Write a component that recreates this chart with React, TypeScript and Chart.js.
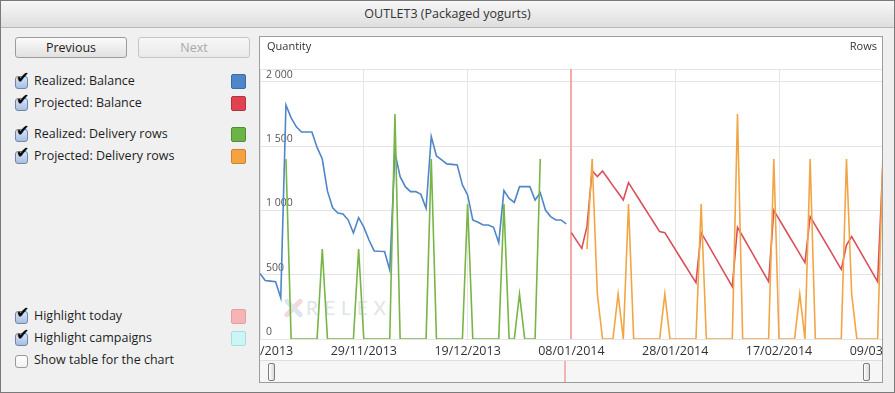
import React, { useEffect, useRef } from "react";
import { Chart, registerables } from "chart.js";

Chart.register(...registerables);

// ---------------- data ----------------
const START_YEAR = 2013;
const START_MONTH = 10; // 0-based: November
const START_DAY = 9; // axis starts 09/11/2013
const X_MIN_DAY = 0;
const X_MAX_DAY = 120;
const X_TICK_STEP_DAYS = 20;
const TODAY_DAY = 60; // 08/01/2014

const QUANTITY_MAX = 2100;
const QUANTITY_TICKS = [0, 500, 1000, 1500, 2000];
const ROWS_MAX = 6;
const ROWS_STEP = 1;

const realizedBalanceStartDay = 0;
const realizedBalance = [
  510, 455, 450, 445, 320, 1820, 1720, 1650, 1610, 1610, 1610, 1490, 1400, 1150, 1020,
  980, 972, 925, 825, 944, 870, 770, 685, 682, 680, 537, 1450, 1263, 1185, 1146,
  1146, 1125, 1017, 1574, 1424, 1393, 1362, 1358, 1354, 1198, 1120, 926, 908, 887, 887,
  869, 749, 1154, 1094, 1063, 1185, 1185, 1185, 1081, 1138, 1003, 952, 926, 926, 895,
];

const projectedBalanceStartDay = 60;
const projectedBalance = [
  827, 765, 705, 874, 1309, 1263, 1307, 1250, 1193, 1137, 1081, 1216, 1152, 1089, 1025,
  962, 898, 835, 827, 762, 697, 632, 568, 503, 438, 827, 757, 687, 617, 547,
  477, 407, 869, 799, 728, 658, 587, 517, 446, 1000, 932, 865, 797, 730, 662,
  594, 952, 884, 815, 747, 679, 610, 542, 730, 796, 726, 656, 586, 516, 446,
  1350,
];

const realizedRowsStartDay = 5;
const realizedRows = [
  4, 0, 0, 0, 0, 0, 0, 2, 0, 0, 0, 0, 0, 0, 2, 0, 0, 0, 0, 0, 0, 5, 0, 0, 0,
  0, 0, 0, 4, 0, 0, 0, 0, 0, 0, 3, 0, 0, 0, 0, 0, 0, 3, 0, 0, 1, 0, 0, 0, 4,
];

const projectedRowsStartDay = 63;
const projectedRows = [
  2, 4, 1, 0, 0, 0, 1, 0, 3, 0, 0, 0, 0, 0, 0, 1, 0, 0, 0, 0, 0, 0, 3, 0, 0,
  0, 0, 0, 0, 5, 0, 0, 0, 0, 0, 0, 4, 0, 0, 0, 0, 1, 0, 4, 0, 0, 0, 0, 0, 0,
  4, 1, 0, 0, 0, 0, 0, 4,
];

const SERIES_NAMES = [
  "Realized: Balance",
  "Projected: Balance",
  "Realized: Delivery rows",
  "Projected: Delivery rows",
];

// ---------------- styles ----------------
const BLUE = "#4f86c8";
const RED = "#d9505c";
const GREEN = "#78b446";
const ORANGE = "#f2a545";
const TODAY_LINE = "#f5a8a8";
const FONT = "'Open Sans', 'DejaVu Sans', sans-serif";

function toPoints(start: number, values: number[]) {
  return values.map((v, i) => ({ x: start + i, y: v }));
}

function fmtDate(day: number) {
  const d = new Date(Date.UTC(START_YEAR, START_MONTH, START_DAY + day));
  const dd = String(d.getUTCDate()).padStart(2, "0");
  const mm = String(d.getUTCMonth() + 1).padStart(2, "0");
  return `${dd}/${mm}/${d.getUTCFullYear()}`;
}

function fmtQty(v: number) {
  if (v >= 1000) {
    return `${Math.floor(v / 1000)} ${String(v % 1000).padStart(3, "0")}`;
  }
  return String(v);
}

const todayPlugin = {
  id: "todayLine",
  beforeDatasetsDraw(chart: any) {
    const { ctx, chartArea, scales } = chart;
    const x = Math.round(scales.x.getPixelForValue(TODAY_DAY));
    ctx.save();
    ctx.fillStyle = TODAY_LINE;
    ctx.fillRect(x - 1, chartArea.top, 2, chartArea.bottom - chartArea.top);
    ctx.restore();
  },
};

const CANVAS_W = 703;
const CANVAS_H = 322;

function ChartCanvas() {
  const ref = useRef<HTMLCanvasElement | null>(null);
  useEffect(() => {
    const canvas = ref.current!;
    const chart = new Chart(canvas, {
      type: "line",
      data: {
        datasets: [
          {
            label: SERIES_NAMES[3],
            data: toPoints(projectedRowsStartDay, projectedRows),
            yAxisID: "rows",
            borderColor: ORANGE,
            borderWidth: 1.6,
            pointRadius: 0,
            tension: 0,
          },
          {
            label: SERIES_NAMES[2],
            data: toPoints(realizedRowsStartDay, realizedRows),
            yAxisID: "rows",
            borderColor: GREEN,
            borderWidth: 1.6,
            pointRadius: 0,
            tension: 0,
          },
          {
            label: SERIES_NAMES[1],
            data: toPoints(projectedBalanceStartDay, projectedBalance),
            yAxisID: "y",
            borderColor: RED,
            borderWidth: 1.6,
            pointRadius: 0,
            tension: 0,
          },
          {
            label: SERIES_NAMES[0],
            data: toPoints(realizedBalanceStartDay, realizedBalance),
            yAxisID: "y",
            borderColor: BLUE,
            borderWidth: 1.6,
            pointRadius: 0,
            tension: 0,
          },
        ],
      },
      options: {
        animation: false,
        responsive: false,
        devicePixelRatio: 1,
        layout: { padding: { left: 40, right: 40.2, top: 32, bottom: 0 } },
        plugins: { legend: { display: false }, tooltip: { enabled: false } },
        scales: {
          x: {
            type: "linear",
            min: X_MIN_DAY,
            max: X_MAX_DAY,
            afterFit: (s: any) => {
              s.height = 20;
            },
            ticks: {
              stepSize: X_TICK_STEP_DAYS,
              autoSkip: false,
              maxRotation: 0,
              padding: 5,
              color: "#333",
              font: { family: FONT, size: 12.5 },
              callback: (v: any) => fmtDate(Number(v)),
            },
            grid: {
              drawTicks: false,
              color: (c: any) => (c.tick && c.tick.value === TODAY_DAY ? "rgba(0,0,0,0)" : "#e6e6e6"),
            },
            border: { display: false },
          },
          y: {
            type: "linear",
            position: "left",
            min: 0,
            max: QUANTITY_MAX,
            afterFit: (s: any) => {
              s.width = 0;
            },
            afterBuildTicks: (s: any) => {
              s.ticks = QUANTITY_TICKS.map((v) => ({ value: v }));
            },
            ticks: {
              autoSkip: false,
              mirror: true,
              padding: 6,
              labelOffset: -7,
              color: "#555",
              font: { family: FONT, size: 10.5 },
              callback: (v: any) => fmtQty(Number(v)),
            },
            grid: { color: "#e4e4e4", drawTicks: false },
            border: { display: false },
          },
          rows: {
            type: "linear",
            position: "right",
            min: 0,
            max: ROWS_MAX,
            afterFit: (s: any) => {
              s.width = 0;
            },
            ticks: {
              stepSize: ROWS_STEP,
              autoSkip: false,
              mirror: true,
              padding: 6,
              labelOffset: -7,
              color: "#555",
              font: { family: FONT, size: 10.5 },
            },
            grid: {
              drawTicks: false,
              color: (c: any) => (c.tick && c.tick.value === ROWS_MAX ? "#e4e4e4" : "rgba(0,0,0,0)"),
            },
            border: { display: false },
          },
        },
      },
      plugins: [todayPlugin],
    } as any);
    return () => chart.destroy();
  }, []);
  return (
    <canvas
      ref={ref}
      width={CANVAS_W}
      height={CANVAS_H}
      style={{ position: "absolute", left: -40, top: 0, width: CANVAS_W, height: CANVAS_H }}
    />
  );
}

function CheckBox({ checked, top }: { checked: boolean; top: number }) {
  return (
    <div
      style={{
        position: "absolute",
        left: 15,
        top,
        width: 13,
        height: 13,
        boxSizing: "border-box",
        border: checked ? "1px solid #6f86a6" : "1px solid #9a9a9a",
        borderRadius: 3,
        background: checked ? "linear-gradient(#d9e5f5, #a7bfe2)" : "linear-gradient(#ffffff, #f1f1f1)",
      }}
    >
      {checked && (
        <span
          style={{
            position: "absolute",
            left: 0,
            top: -8,
            fontFamily: "'DejaVu Sans'",
            fontSize: 16,
            lineHeight: "18px",
            color: "#0a0a0a",
          }}
        >
          ✔
        </span>
      )}
    </div>
  );
}

const panelRows = [
  { text: SERIES_NAMES[0], y: 81, checked: true, swatch: BLUE, swBorder: "#3a6aa8" },
  { text: SERIES_NAMES[1], y: 103, checked: true, swatch: "#e0434f", swBorder: "#b23440" },
  { text: SERIES_NAMES[2], y: 134, checked: true, swatch: "#6cb445", swBorder: "#4f8e32" },
  { text: SERIES_NAMES[3], y: 156, checked: true, swatch: "#f4a340", swBorder: "#cc8230" },
  { text: "Highlight today", y: 316, checked: true, swatch: "#f6b4b4", swBorder: "#e3a0a0" },
  { text: "Highlight campaigns", y: 338, checked: true, swatch: "#ccf6f6", swBorder: "#a9dede" },
  { text: "Show table for the chart", y: 360, checked: false, swatch: null, swBorder: "" },
];

function Button({ left, label, disabled }: { left: number; label: string; disabled?: boolean }) {
  return (
    <div
      style={{
        position: "absolute",
        left,
        top: 37,
        width: 112,
        height: 21,
        boxSizing: "border-box",
        border: disabled ? "1px solid #c6c6c6" : "1px solid #9c9c9c",
        borderRadius: 3,
        background: disabled ? "linear-gradient(#f7f7f7, #e9e9e9)" : "linear-gradient(#fbfbfb, #e1e1e1)",
        textAlign: "center",
        lineHeight: "19px",
        fontSize: 12.5,
        color: disabled ? "#a9a9a9" : "#222",
      }}
    >
      {label}
    </div>
  );
}

export default function App() {
  return (
    <div
      style={{
        position: "fixed",
        left: 0,
        top: 0,
        width: 895,
        height: 393,
        background: "#f0f0f0",
        overflow: "hidden",
        fontFamily: FONT,
      }}
    >
      {/* title bar */}
      <div
        style={{
          position: "absolute",
          left: 0,
          top: 0,
          width: 895,
          height: 28,
          boxSizing: "border-box",
          background: "linear-gradient(#f8f8f8, #dedede)",
          borderBottom: "1px solid #b9b9b9",
          textAlign: "center",
          lineHeight: "28px",
          fontSize: 12.5,
          color: "#333",
        }}
      >
        OUTLET3 (Packaged yogurts)
      </div>

      <Button left={15} label="Previous" />
      <Button left={138} label="Next" disabled />

      {panelRows.map((r) => (
        <React.Fragment key={r.text}>
          <CheckBox checked={r.checked} top={r.y - 5} />
          <div
            style={{
              position: "absolute",
              left: 34,
              top: r.y - 9,
              height: 18,
              lineHeight: "18px",
              fontSize: 12.5,
              color: "#1e1e1e",
              whiteSpace: "nowrap",
            }}
          >
            {r.text}
          </div>
          {r.swatch && (
            <div
              style={{
                position: "absolute",
                left: 231,
                top: r.y - 7,
                width: 15,
                height: 15,
                boxSizing: "border-box",
                borderRadius: 2,
                background: r.swatch,
                border: `1px solid ${r.swBorder}`,
              }}
            />
          )}
        </React.Fragment>
      ))}

      {/* chart frame */}
      <div
        style={{
          position: "absolute",
          left: 259,
          top: 36,
          width: 622,
          height: 345,
          border: "1px solid #9d9d9d",
          background: "#ffffff",
          overflow: "hidden",
        }}
      >
        {/* watermark */}
        <div style={{ position: "absolute", left: 23, top: 261, width: 20, height: 20 }}>
          <div
            style={{
              position: "absolute",
              left: 8,
              top: -2,
              width: 5,
              height: 24,
              background: "#f3d9de",
              borderRadius: 3,
              transform: "rotate(45deg)",
            }}
          />
          <div
            style={{
              position: "absolute",
              left: 8,
              top: -2,
              width: 5,
              height: 24,
              background: "#dde6ee",
              borderRadius: 3,
              transform: "rotate(-45deg)",
            }}
          />
        </div>
        <div
          style={{
            position: "absolute",
            left: 46,
            top: 259,
            fontFamily: "Lato, 'Open Sans', sans-serif",
            fontSize: 19,
            letterSpacing: 6,
            color: "#e0e4e9",
            lineHeight: "24px",
          }}
        >
          RELEX
        </div>

        <ChartCanvas />

        <div style={{ position: "absolute", left: 7, top: 1, fontSize: 11, color: "#333", lineHeight: "16px" }}>
          Quantity
        </div>
        <div style={{ position: "absolute", right: 5, top: 1, fontSize: 11, color: "#333", lineHeight: "16px" }}>
          Rows
        </div>

        {/* scroll strip */}
        <div
          style={{
            position: "absolute",
            left: 0,
            top: 323,
            width: 622,
            height: 22,
            boxSizing: "border-box",
            background: "#f6f6f6",
            borderTop: "1px solid #dedede",
          }}
        >
          <div style={{ position: "absolute", left: 304, top: 0, width: 2, height: 22, background: "#f5b4b4" }} />
          <div
            style={{
              position: "absolute",
              left: 8,
              top: 2,
              width: 7,
              height: 18,
              boxSizing: "border-box",
              border: "1px solid #7d7d7d",
              borderRadius: 2,
              background: "linear-gradient(90deg, #ffffff, #d9d9d9)",
            }}
          />
          <div
            style={{
              position: "absolute",
              left: 603,
              top: 2,
              width: 7,
              height: 18,
              boxSizing: "border-box",
              border: "1px solid #7d7d7d",
              borderRadius: 2,
              background: "linear-gradient(90deg, #ffffff, #d9d9d9)",
            }}
          />
        </div>
      </div>

      {/* window border */}
      <div
        style={{
          position: "absolute",
          left: 0,
          top: 0,
          width: 895,
          height: 393,
          boxSizing: "border-box",
          border: "1px solid #7a7a7a",
          pointerEvents: "none",
        }}
      />
    </div>
  );
}
